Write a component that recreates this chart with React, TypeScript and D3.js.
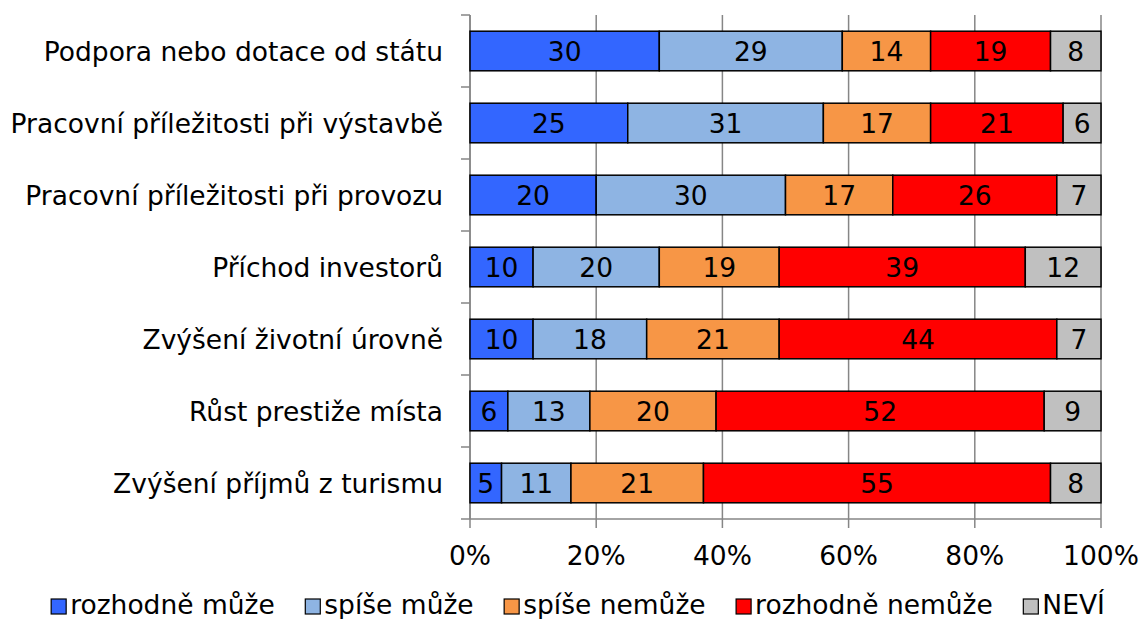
import React, { useEffect, useRef } from "react";
import * as d3 from "d3";

const categories = [
  "Podpora nebo dotace od státu",
  "Pracovní příležitosti při výstavbě",
  "Pracovní příležitosti při provozu",
  "Příchod investorů",
  "Zvýšení životní úrovně",
  "Růst prestiže místa",
  "Zvýšení příjmů z turismu",
];
const seriesNames = ["rozhodně může", "spíše může", "spíše nemůže", "rozhodně nemůže", "NEVÍ"];
const rozhodneMuze = [30, 25, 20, 10, 10, 6, 5];
const spiseMuze = [29, 31, 30, 20, 18, 13, 11];
const spiseNemuze = [14, 17, 17, 19, 21, 20, 21];
const rozhodneNemuze = [19, 21, 26, 39, 44, 52, 55];
const nevi = [8, 6, 7, 12, 7, 9, 8];
const colors = ["#3366FF", "#8EB4E3", "#F79646", "#FF0000", "#C0C0C0"];
const xTicks = [0, 20, 40, 60, 80, 100];

const W = 1143;
const H = 619;
const FONT = "'DejaVu Sans', Verdana, sans-serif";
const FS = 26.5;

export default function App() {
  const ref = useRef<SVGSVGElement>(null);
  useEffect(() => {
    const svg = d3.select(ref.current);
    svg.selectAll("*").remove();
    const left = 470, right = 1101, top = 15, bottom = 519;
    const x = d3.scaleLinear().domain([0, 100]).range([left, right]);
    const y = d3.scaleBand().domain(categories).range([top, bottom]).paddingInner(0.45).paddingOuter(0.225);
    const yb = d3.scaleBand().domain(categories).range([top, bottom]);
    const series = [rozhodneMuze, spiseMuze, spiseNemuze, rozhodneNemuze, nevi];

    // gridlines
    svg.append("g").selectAll("line").data(xTicks).join("line")
      .attr("x1", (d) => x(d)).attr("x2", (d) => x(d))
      .attr("y1", top).attr("y2", bottom + 9)
      .attr("stroke", "#868686").attr("stroke-width", 1.5);
    // y axis
    svg.append("line").attr("x1", left).attr("x2", left).attr("y1", top).attr("y2", bottom)
      .attr("stroke", "#868686").attr("stroke-width", 1.5);
    const bounds = categories.map((c) => yb(c)!).concat([bottom]);
    svg.append("g").selectAll("line").data(bounds).join("line")
      .attr("x1", left - 9).attr("x2", left).attr("y1", (d) => d).attr("y2", (d) => d)
      .attr("stroke", "#868686").attr("stroke-width", 1.5);
    svg.append("line").attr("x1", left).attr("x2", right).attr("y1", bottom).attr("y2", bottom)
      .attr("stroke", "#868686").attr("stroke-width", 1.5);

    // bars
    const stackData = categories.map((c, i) => {
      let acc = 0;
      return series.map((s, k) => {
        const v = s[i];
        const o = { cat: c, k, x0: acc, x1: acc + v, v };
        acc += v;
        return o;
      });
    }).flat();
    const g = svg.append("g");
    g.selectAll("rect").data(stackData).join("rect")
      .attr("x", (d) => x(d.x0)).attr("width", (d) => x(d.x1) - x(d.x0))
      .attr("y", (d) => y(d.cat)!).attr("height", y.bandwidth())
      .attr("fill", (d) => colors[d.k]).attr("stroke", "#000").attr("stroke-width", 1.5);
    g.selectAll("text").data(stackData).join("text")
      .attr("x", (d) => (x(d.x0) + x(d.x1)) / 2)
      .attr("y", (d) => y(d.cat)! + y.bandwidth() / 2)
      .attr("dy", "0.36em").attr("text-anchor", "middle")
      .attr("font-family", FONT).attr("font-size", FS).attr("fill", "#000")
      .text((d) => d.v);

    // category labels
    svg.append("g").selectAll("text").data(categories).join("text")
      .attr("x", left - 27).attr("y", (d) => y(d)! + y.bandwidth() / 2)
      .attr("dy", "0.36em").attr("text-anchor", "end")
      .attr("font-family", FONT).attr("font-size", FS).attr("fill", "#000")
      .text((d) => d);

    // x tick labels
    svg.append("g").selectAll("text").data(xTicks).join("text")
      .attr("x", (d) => x(d)).attr("y", 565).attr("text-anchor", "middle")
      .attr("font-family", FONT).attr("font-size", FS).attr("fill", "#000")
      .text((d) => d + "%");

    // legend
    const lg = svg.append("g");
    const items = seriesNames.map((n, k) => {
      const gi = lg.append("g");
      gi.append("rect").attr("x", 0).attr("y", -15).attr("width", 15).attr("height", 15)
        .attr("fill", colors[k]).attr("stroke", "#000").attr("stroke-width", 1.2);
      const t = gi.append("text").attr("x", 19).attr("y", 0)
        .attr("font-family", FONT).attr("font-size", FS).attr("fill", "#000").text(n);
      const w = 19 + (t.node() as SVGTextElement).getComputedTextLength();
      return { gi, w };
    });
    const gap = 30.5;
    const total = d3.sum(items, (d) => d.w) + gap * (items.length - 1);
    let cx = 578 - total / 2;
    items.forEach((it) => {
      it.gi.attr("transform", `translate(${cx},614)`);
      cx += it.w + gap;
    });
  }, []);
  return (
    <svg ref={ref} width={W} height={H} style={{ position: "absolute", left: 0, top: 0, background: "#fff" }} />
  );
}
